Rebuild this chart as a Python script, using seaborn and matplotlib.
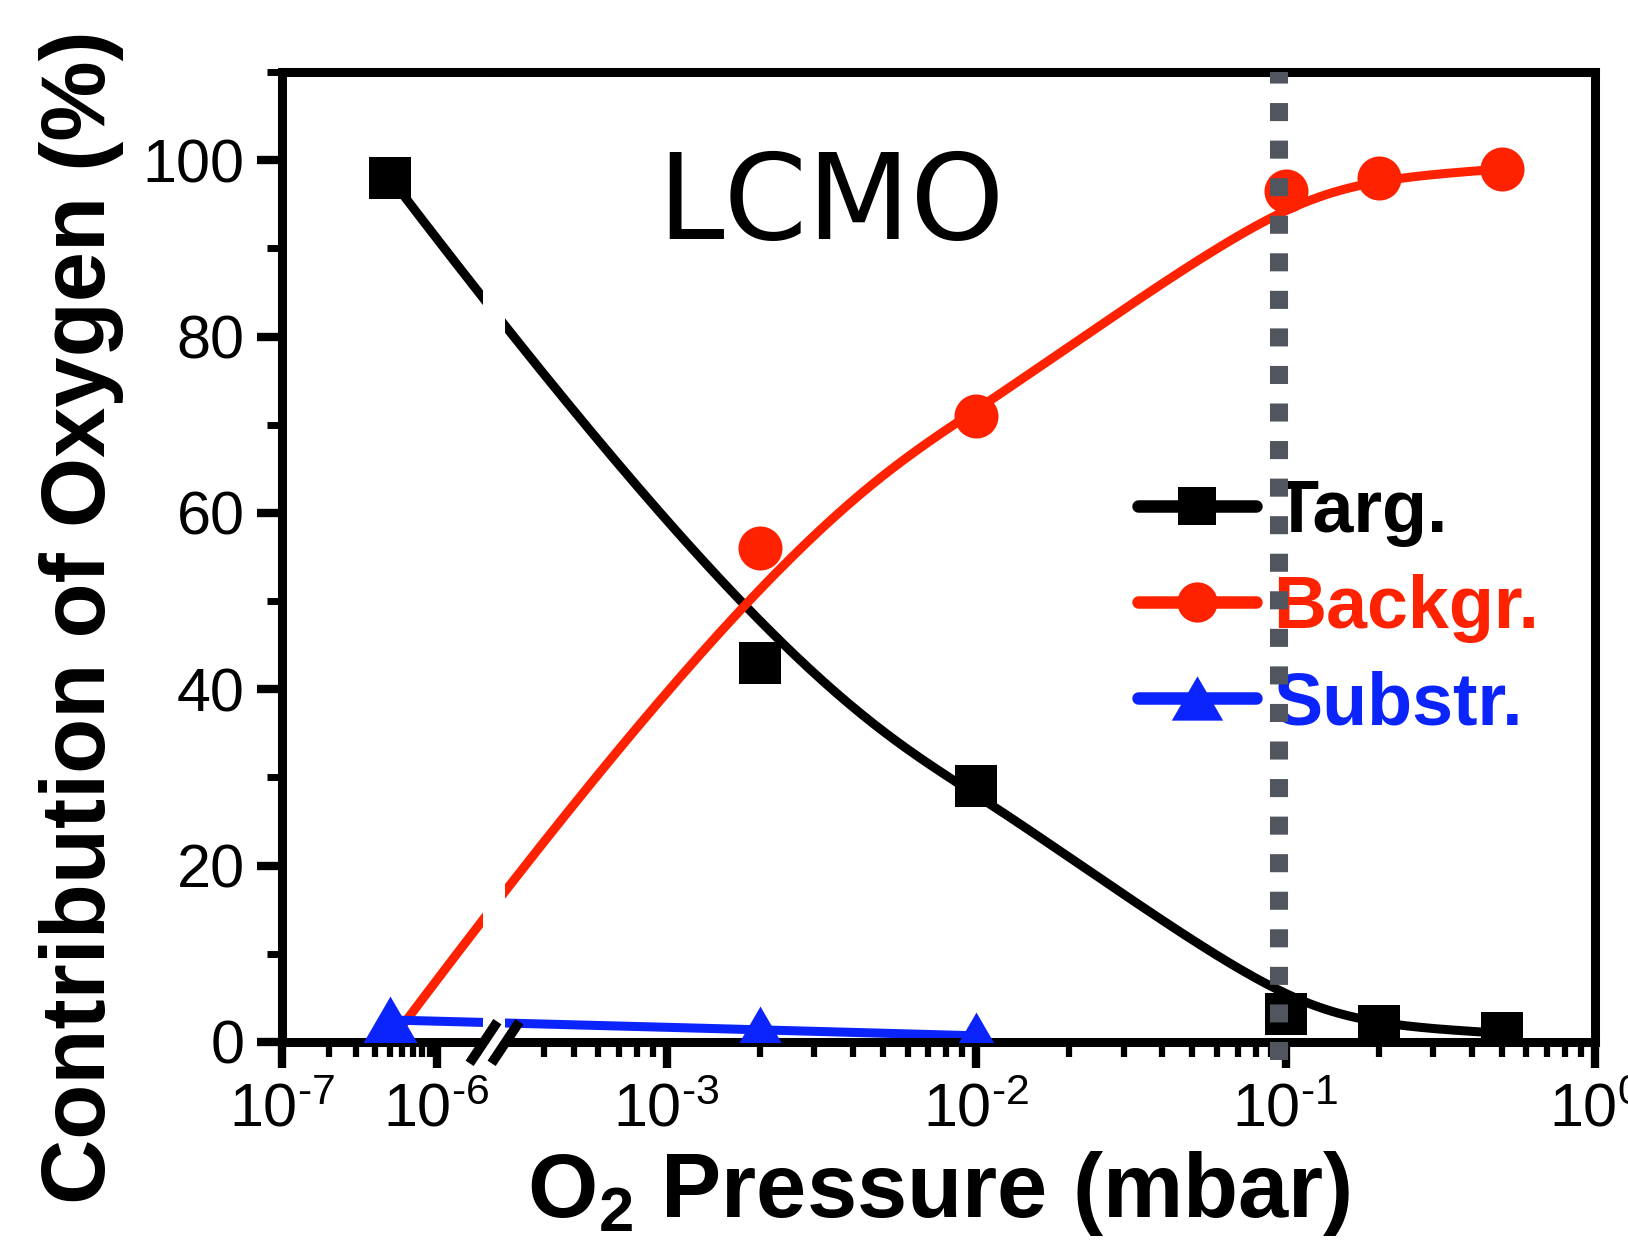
import numpy as np
import matplotlib
matplotlib.use("Agg")
import matplotlib.pyplot as plt
import seaborn as sns
from matplotlib.lines import Line2D
from matplotlib.ticker import FixedLocator, NullFormatter

# ---- data -------------------------------------------------------------
pressure = [5e-7, 2e-3, 1e-2, 1e-1, 2e-1, 5e-1]          # O2 pressure, mbar
target = [98, 43, 29, 3.2, 1.8, 1.0]                      # Targ. (%)
background = [0, 56, 71, 96.5, 98, 99]                    # Backgr. (%)
substrate_pressure = [5e-7, 2e-3, 1e-2]
substrate = [2.5, 1.4, 0.7]                               # Substr. (%)

series_names = ["Targ.", "Backgr.", "Substr."]
series_colors = ["#000000", "#ff2200", "#0b24fb"]

x_major = [1e-7, 1e-6, 1e-3, 1e-2, 1e-1, 1.0]
x_major_labels = [r"10$^{\text{-}7}$", r"10$^{\text{-}6}$", r"10$^{\text{-}3}$",
                  r"10$^{\text{-}2}$", r"10$^{\text{-}1}$", r"10$^{0}$"]
y_major = [0, 20, 40, 60, 80, 100]
y_minor = [10, 30, 50, 70, 90, 110]

break_lo, break_hi = 2e-6, 3e-4      # axis break
marker_pressure = 0.095              # dotted reference line

# ---- broken logarithmic x scale --------------------------------------
LEFT_W = 0.5      # width of one decade left of the break
GAP_W = 0.07      # width of the break
lb_lo, lb_hi = np.log10(break_lo), np.log10(break_hi)
u_lo = (lb_lo + 7) * LEFT_W
u_hi = u_lo + GAP_W


def forward(x):
    lx = np.log10(np.maximum(np.asarray(x, dtype=float), 1e-30))
    left = (lx + 7) * LEFT_W
    mid = u_lo + (lx - lb_lo) / (lb_hi - lb_lo) * GAP_W
    right = u_hi + (lx - lb_hi)
    return np.where(lx <= lb_lo, left, np.where(lx < lb_hi, mid, right))


def inverse(u):
    u = np.asarray(u, dtype=float)
    left = u / LEFT_W - 7
    mid = lb_lo + (u - u_lo) / GAP_W * (lb_hi - lb_lo)
    right = lb_hi + (u - u_hi)
    return 10 ** np.where(u <= u_lo, left, np.where(u < u_hi, mid, right))


def bspline(px, py, n=400):
    """Clamped uniform B-spline with the points as control polygon."""
    P = np.column_stack([px, py])
    m = len(P)
    k = min(3, m - 1)
    knots = np.concatenate([np.zeros(k + 1), np.arange(1, m - k), np.full(k + 1, m - k)]).astype(float)
    t = np.linspace(0, m - k, n)
    N = np.zeros((n, len(knots) - 1))
    for i in range(len(knots) - 1):
        N[:, i] = (knots[i] <= t) & (t < knots[i + 1])
    N[t >= knots[-1], m - 1] = 1.0
    for p in range(1, k + 1):
        Nn = np.zeros((n, len(knots) - 1 - p))
        for i in range(len(knots) - 1 - p):
            d1 = knots[i + p] - knots[i]
            d2 = knots[i + p + 1] - knots[i + 1]
            a = (t - knots[i]) / d1 * N[:, i] if d1 > 0 else 0.0
            b = (knots[i + p + 1] - t) / d2 * N[:, i + 1] if d2 > 0 else 0.0
            Nn[:, i] = a + b
        N = Nn
    C = N @ P
    return C[:, 0], C[:, 1]


# ---- style ------------------------------------------------------------
sns.set_style("white")
plt.rcParams["font.family"] = ["Liberation Sans", "DejaVu Sans"]
plt.rcParams["mathtext.fontset"] = "custom"
plt.rcParams["mathtext.rm"] = "Liberation Sans"
plt.rcParams["mathtext.it"] = "Liberation Sans:italic"
plt.rcParams["mathtext.bf"] = "Liberation Sans:bold"
plt.rcParams["mathtext.default"] = "regular"
for key in ("text.color", "axes.labelcolor", "xtick.color", "ytick.color",
            "xtick.labelcolor", "ytick.labelcolor", "axes.edgecolor"):
    plt.rcParams[key] = "black"

W, H = 1628, 1258
fig = plt.figure(figsize=(W / 100, H / 100), dpi=100)
fig.patch.set_facecolor("white")
ax = fig.add_axes([282 / W, 1 - 1042 / H, 1313 / W, 970 / H])
ax.set_xscale("function", functions=(forward, inverse))
ax.set_xlim(1e-7, 1.0)
ax.set_ylim(0, 110)

# ---- curves and markers ----------------------------------------------
tri = [(0, 0.5), (-0.58, -0.5), (0.58, -0.5)]
marker_styles = [("s", 30.2), ("o", 31.7), (tri, 40)]
all_x = [pressure, pressure, substrate_pressure]
all_y = [target, background, substrate]

for xs, ys, color in zip(all_x, all_y, series_colors):
    cu, cy = bspline(forward(xs), ys)
    sns.lineplot(x=inverse(cu), y=cy, sort=False, estimator=None, color=color,
                 lw=6.5, ax=ax, legend=False, zorder=2)

for xs, ys, color, (mk, sz) in zip(all_x, all_y, series_colors, marker_styles):
    sns.scatterplot(x=xs, y=ys, marker=mk, s=sz ** 2, color=color, edgecolor=color,
                    linewidth=0, ax=ax, legend=False, zorder=3)

# blank band across the axis break and the break marks
ax.axvspan(break_lo, break_hi, ymin=-0.008, ymax=0.995, color="white", lw=0,
           zorder=2.6, clip_on=False)
ax.plot([break_lo, break_hi], [0, 0], ls="", marker=[(-1, -1.5), (1, 1.5)], ms=30,
        mew=7, mec="black", clip_on=False, zorder=3)

# dotted reference line
ax.axvline(marker_pressure, ymin=-18 / 970, ymax=1.0, color="#50555e", lw=13,
           dashes=(1.0, 1.08), zorder=6, clip_on=False)

# ---- axes -------------------------------------------------------------
x_minor = [m * 10.0 ** e for e in (-7,) for m in range(2, 10)]
x_minor += [m * 1e-4 for m in range(4, 10)]
x_minor += [m * 10.0 ** e for e in (-3, -2, -1) for m in range(2, 10)]
ax.xaxis.set_major_locator(FixedLocator(x_major))
ax.xaxis.set_minor_locator(FixedLocator(x_minor))
ax.set_xticklabels(x_major_labels)
ax.xaxis.set_minor_formatter(NullFormatter())
ax.yaxis.set_major_locator(FixedLocator(y_major))
ax.yaxis.set_minor_locator(FixedLocator(y_minor))

for s in ax.spines.values():
    s.set_visible(True)
    s.set_linewidth(6.5)
    s.set_color("black")

ax.tick_params(axis="both", which="both", direction="out", color="black",
               bottom=True, left=True, top=False, right=False, labelcolor="black")
ax.tick_params(axis="x", which="major", length=19, width=6, pad=10, labelsize=44)
ax.tick_params(axis="x", which="minor", length=11, width=4.5)
ax.tick_params(axis="y", which="major", length=18, width=6, pad=9, labelsize=44)
ax.tick_params(axis="y", which="minor", length=11, width=5)

ax.set_ylabel("Contribution of Oxygen (%)", fontsize=65, fontweight="bold", color="black")
ax.yaxis.set_label_coords(-0.12, 0.438)
ax.set_xlabel("O$_2$ Pressure (mbar)", fontsize=65, fontweight="bold", color="black")
ax.xaxis.set_label_coords(0.5, -0.11)

ax.text(0.418, 0.862, "LCMO", transform=ax.transAxes, ha="center", va="center",
        fontsize=86, family="DejaVu Sans", color="black")

# ---- legend -----------------------------------------------------------
handles = []
for color, (mk, sz) in zip(series_colors, [("s", 28), ("o", 29), (tri, 37)]):
    handles.append(Line2D([], [], color=color, lw=9, marker=mk, ms=sz, mew=0,
                          mfc=color, solid_capstyle="round"))
ax.legend(handles, series_names, loc="center left", bbox_to_anchor=(0.652, 0.447),
          frameon=False, prop={"family": "Liberation Sans", "weight": "bold", "size": 53},
          handlelength=1.6, handletextpad=0.24, labelspacing=0.37, borderpad=0,
          borderaxespad=0, labelcolor="linecolor")

fig.savefig("out.png", dpi=100, facecolor="white")
